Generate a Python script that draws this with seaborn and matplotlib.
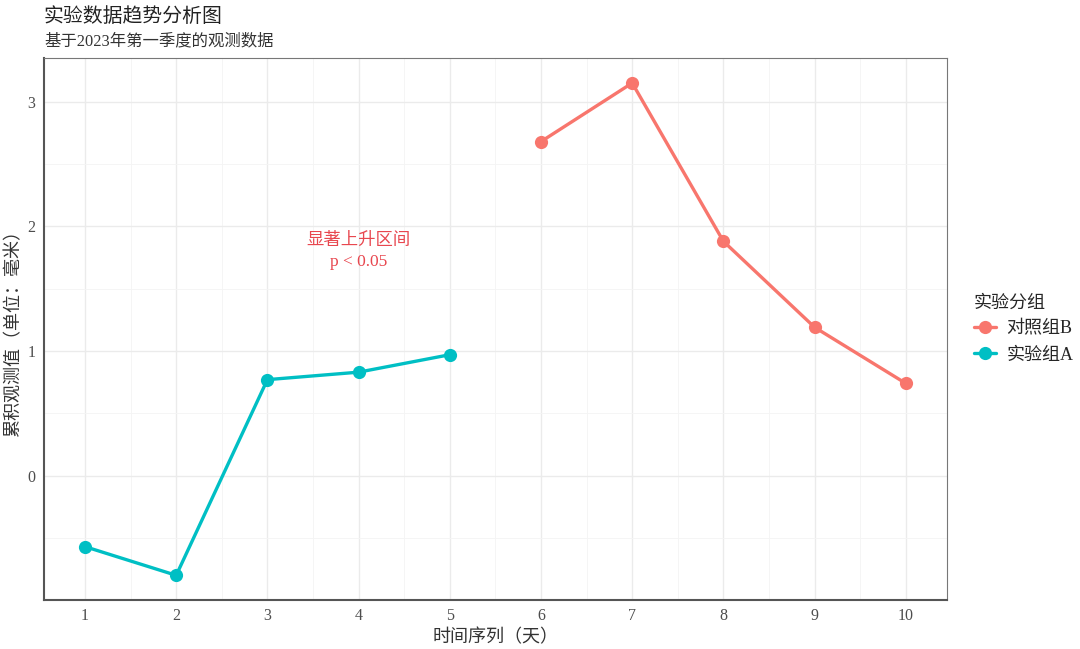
import matplotlib
matplotlib.use("Agg")
import matplotlib.pyplot as plt
import seaborn as sns
import pandas as pd
from matplotlib.ticker import MultipleLocator

# data
days_a = [1, 2, 3, 4, 5]
values_a = [-0.57, -0.80, 0.77, 0.83, 0.97]
days_b = [6, 7, 8, 9, 10]
values_b = [2.68, 3.15, 1.88, 1.19, 0.74]
group_names = ["对照组B", "实验组A"]
palette = {"对照组B": "#F8766D", "实验组A": "#00BFC4"}

df = pd.concat([
    pd.DataFrame({"day": days_b, "value": values_b, "group": group_names[0]}),
    pd.DataFrame({"day": days_a, "value": values_a, "group": group_names[1]}),
])

sns.set_style("white")
plt.rcParams['font.family'] = ['Liberation Serif', 'Noto Sans CJK SC', 'DejaVu Sans']

fig = plt.figure(figsize=(10.8, 6.49), dpi=100)
ax = fig.add_axes([0.0407, 0.0755, 0.836, 0.835])

sns.lineplot(data=df, x="day", y="value", hue="group", hue_order=group_names,
             palette=palette, marker="o", markersize=9.5, markeredgewidth=0,
             linewidth=2.4, ax=ax, zorder=3)

# limits with 5% expansion like ggplot
ax.set_xlim(0.55, 10.45)
ax.set_ylim(-0.998, 3.35)
ax.set_xticks(range(1, 11))
ax.set_yticks([0, 1, 2, 3])
ax.xaxis.set_minor_locator(MultipleLocator(0.5))
ax.yaxis.set_minor_locator(MultipleLocator(0.5))
ax.grid(which="major", color="#EBEBEB", linewidth=1.0, zorder=0)
ax.grid(which="minor", color="#F4F4F4", linewidth=0.6, zorder=0)
ax.tick_params(which="both", length=0, labelsize=11.5, colors="#4D4D4D", pad=6)

for side in ["top", "right"]:
    ax.spines[side].set_color("#777777")
    ax.spines[side].set_linewidth(0.8)
for side in ["left", "bottom"]:
    ax.spines[side].set_color("#555555")
    ax.spines[side].set_linewidth(1.5)

ax.set_xlabel("时间序列（天）", fontsize=13, color="#333333")
ax.set_ylabel("累积观测值（单位：毫米）", fontsize=13, color="#333333")
ax.xaxis.set_label_coords(0.5, -0.054)
ax.yaxis.set_label_coords(-0.024, 0.5)

ax.text(4, 1.8, "显著上升区间\np < 0.05", ha="center", va="center",
        fontsize=12.5, color="#E8474F", linespacing=1.45)

fig.text(0.0407, 0.958, "实验数据趋势分析图", fontsize=14.3, color="#222222",
         ha="left", va="bottom")
fig.text(0.0407, 0.924, "基于2023年第一季度的观测数据", fontsize=11.8,
         color="#333333", ha="left", va="bottom")

leg = ax.legend(title="实验分组", loc="center left", bbox_to_anchor=(1.022, 0.5),
                frameon=False, fontsize=13, title_fontsize=13,
                handlelength=1.2, handletextpad=0.6, labelspacing=0.5,
                borderaxespad=0)
leg._legend_box.align = "left"

fig.savefig("out.png", dpi=100)
